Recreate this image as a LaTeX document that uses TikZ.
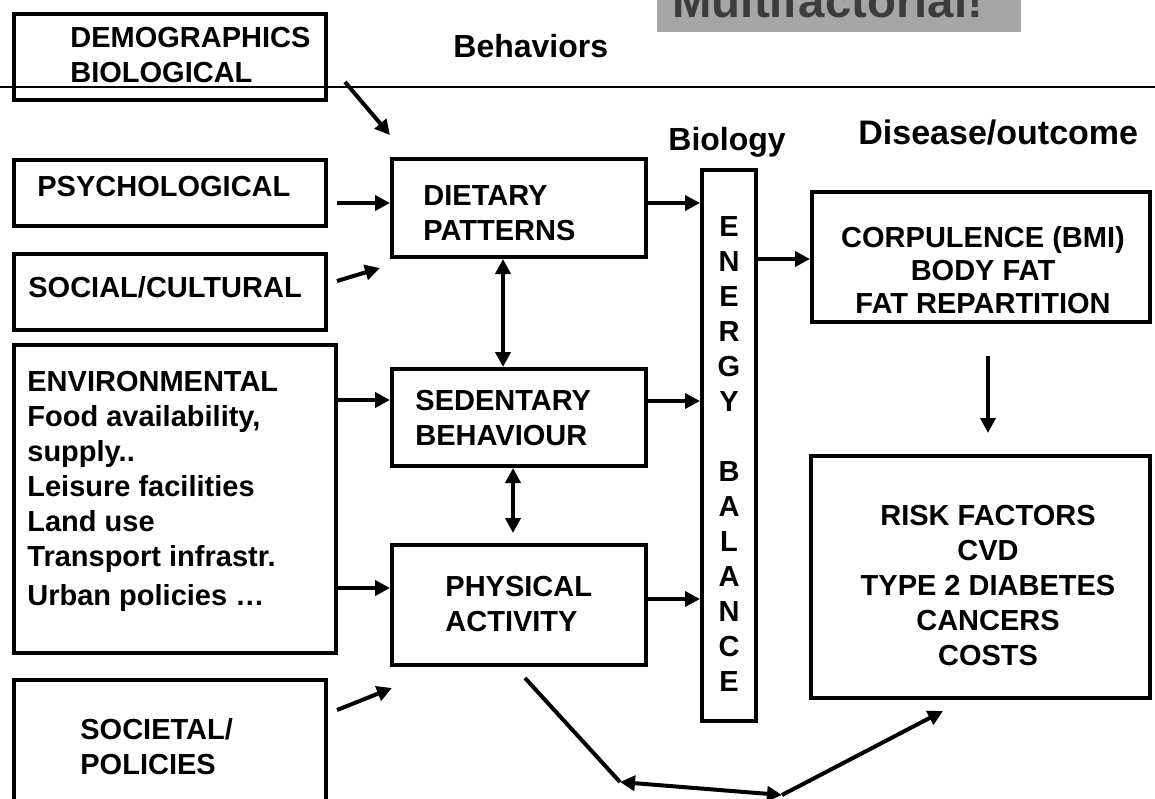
\documentclass[tikz,border=0pt]{standalone}
\usepackage{fontspec}
\setmainfont{Liberation Sans}
\usetikzlibrary{arrows.meta,fit}
\definecolor{titlegray}{HTML}{A6A6A6}
\definecolor{titletext}{HTML}{3C3C3C}
\newcommand{\stackl}[1]{\begin{tabular}[t]{@{}l@{}}#1\end{tabular}}
\newcommand{\stackc}[1]{\begin{tabular}[t]{@{}c@{}}#1\end{tabular}}
\tikzset{
  box/.style={draw,line width=2pt,inner sep=0pt},
  txt/.style={inner sep=0pt,font=\fontsize{14.5}{17.5}\selectfont\bfseries},
  head/.style={inner sep=0pt,font=\fontsize{16}{19}\selectfont\bfseries},
  arr/.style={-{Triangle[length=7.5pt,width=7.5pt]},line width=2pt},
  darr/.style={{Triangle[length=7.5pt,width=7.5pt]}-{Triangle[length=7.5pt,width=7.5pt]},line width=2pt}
}

\begin{document}
\begin{tikzpicture}[x=0.5pt,y=-0.5pt]
    \useasboundingbox (0,0) rectangle (1155,798);
    \clip (0,0) rectangle (1155,798);

    % title, cut at the top
    \node[fill=titlegray,inner sep=0pt,fit={(657,-5) (1021,32)}] (titlebox) {};
    \node[inner sep=0pt,anchor=base west,text=titletext,font=\fontsize{23.7}{28}\selectfont\bfseries] (title) at (672,17) {Multifactorial!};

    \draw[line width=0.75pt] (0,87) -- (1155,87);

    % headings
    \node[head,anchor=base west] (behav) at (453,57) {Behaviors};
    \node[head,anchor=base west] (biol) at (668,150) {Biology};
    \node[head,anchor=base west,font=\fontsize{17}{20}\selectfont\bfseries] (disease) at (858,144) {Disease/outcome};

    % determinants
    \node[box,fit={(14,14) (326,100)}] (demog) {};
    \node[txt,anchor=base west] (demog-t) at (70,47) {\stackl{DEMOGRAPHICS\\BIOLOGICAL}};
    \node[box,fit={(14,160) (326,226)}] (psych) {};
    \node[txt,anchor=base west] (psych-t) at (37,196) {PSYCHOLOGICAL};
    \node[box,fit={(14,254) (326,330)}] (social) {};
    \node[txt,anchor=base west] (social-t) at (28,297) {SOCIAL/CULTURAL};
    \node[box,fit={(14,345) (336,653)}] (env) {};
    \node[txt,anchor=base west] (env-t) at (27,391) {\stackl{ENVIRONMENTAL\\Food availability,\\supply..\\Leisure facilities\\Land use\\Transport infrastr.\\[2pt]Urban policies \dots}};
    \node[box,fit={(14,680) (326,810)}] (societal) {};
    \node[txt,anchor=base west] (societal-t) at (80,739) {\stackl{SOCIETAL/\\POLICIES}};

    % behaviours
    \node[box,fit={(392,159) (646,257)}] (diet) {};
    \node[txt,anchor=base west] (diet-t) at (423,205) {\stackl{DIETARY\\PATTERNS}};
    \node[box,fit={(392,369) (646,466)}] (sed) {};
    \node[txt,anchor=base west] (sed-t) at (415,410) {\stackl{SEDENTARY\\BEHAVIOUR}};
    \node[box,fit={(392,545) (646,665)}] (phys) {};
    \node[txt,anchor=base west] (phys-t) at (445,596) {\stackl{PHYSICAL\\ACTIVITY}};

    % biology
    \node[box,fit={(702,170) (756,721)}] (energy) {};
    \node[txt,anchor=base] (energy-t) at (729,236) {\stackc{E\\N\\E\\R\\G\\Y\\ \\B\\A\\L\\A\\N\\C\\E}};

    % outcomes
    \node[box,fit={(812,192) (1150,322)}] (corp) {};
    \node[txt,anchor=base,font=\fontsize{14.5}{16.5}\selectfont\bfseries] (corp-t) at (983,247) {\stackc{CORPULENCE (BMI)\\BODY FAT\\FAT REPARTITION}};
    \node[box,fit={(811,456) (1150,698)}] (risk) {};
    \node[txt,anchor=base] (risk-t) at (988,525) {\stackc{RISK FACTORS\\CVD\\TYPE 2 DIABETES\\CANCERS\\COSTS}};

    % free arrow ends
    \coordinate (demog-o) at (345,82);
    \coordinate (demog-i) at (390,135);
    \coordinate (psych-o) at (337,203);
    \coordinate (social-o) at (337,281);
    \coordinate (social-i) at (380,268);
    \coordinate (societal-o) at (337,710);
    \coordinate (societal-i) at (392,688);
    \coordinate (phys-i) at (513,533);
    \coordinate (corp-o) at (988,356);
    \coordinate (risk-i) at (988,433);
    \coordinate (phys-o) at (525,678);
    \coordinate (knee1) at (620,782);
    \coordinate (knee2) at (782,795);
    \coordinate (risk-j) at (943,711);

    \draw[arr] (demog-o) -- (demog-i);
    \draw[arr] (psych-o) -- (psych-o -| diet.west);
    \draw[arr] (social-o) -- (social-i);
    \draw[arr] (env.east |- 0,400) -- (sed.west |- 0,400);
    \draw[arr] (env.east |- 0,588) -- (phys.west |- 0,588);
    \draw[arr] (societal-o) -- (societal-i);

    \draw[arr] (diet.east |- 0,203) -- (energy.west |- 0,203);
    \draw[arr] (sed.east |- 0,401) -- (energy.west |- 0,401);
    \draw[arr] (phys.east |- 0,599) -- (energy.west |- 0,599);
    \draw[darr] (diet.south -| 503,0) -- (sed.north -| 503,0);
    \draw[darr] (sed.south -| 513,0) -- (phys-i);

    \draw[arr] (energy.east |- 0,259) -- (corp.west |- 0,259);
    \draw[arr] (corp-o) -- (risk-i);

    \draw[line width=2pt] (phys-o) -- (knee1);
    \draw[darr] (knee1) -- (knee2);
    \draw[arr] (knee2) -- (risk-j);
\end{tikzpicture}
\end{document}
